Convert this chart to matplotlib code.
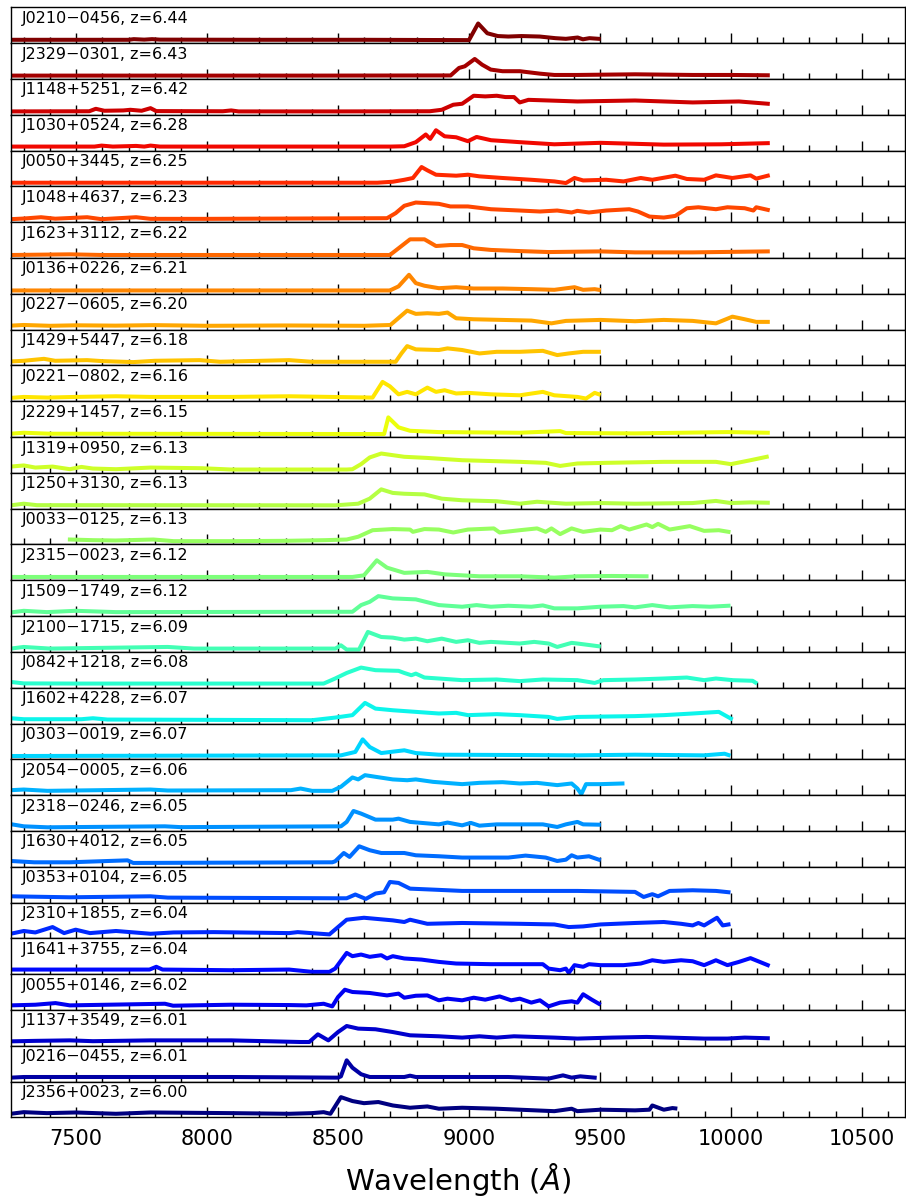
import numpy as np
import matplotlib
matplotlib.use("Agg")
import matplotlib.pyplot as plt
from matplotlib.ticker import MultipleLocator

# Quasar names and redshifts, top panel to bottom panel
names = ["J0210−0456", "J2329−0301", "J1148+5251", "J1030+0524", "J0050+3445",
         "J1048+4637", "J1623+3112", "J0136+0226", "J0227−0605", "J1429+5447",
         "J0221−0802", "J2229+1457", "J1319+0950", "J1250+3130", "J0033−0125",
         "J2315−0023", "J1509−1749", "J2100−1715", "J0842+1218", "J1602+4228",
         "J0303−0019", "J2054−0005", "J2318−0246", "J1630+4012", "J0353+0104",
         "J2310+1855", "J1641+3755", "J0055+0146", "J1137+3549", "J0216−0455",
         "J2356+0023"]
redshifts = [6.44, 6.43, 6.42, 6.28, 6.25, 6.23, 6.22, 6.21, 6.20, 6.18, 6.16,
             6.15, 6.13, 6.13, 6.13, 6.12, 6.12, 6.09, 6.08, 6.07, 6.07, 6.06,
             6.05, 6.05, 6.05, 6.04, 6.04, 6.02, 6.01, 6.01, 6.00]

# Normalised spectra (wavelength in Angstrom, relative flux)
j0210_wave = [7250, 7500, 7700, 7720, 7760, 7790, 7820, 8200, 8600, 9000, 9035, 9070, 9110,
              9150, 9200, 9270, 9330, 9370, 9415, 9435, 9460, 9495]
j0210_flux = [0.02, 0.02, 0.02, 0.06, 0.03, 0.06, 0.03, 0.02, 0.02, 0.0, 1.02, 0.42, 0.25,
              0.22, 0.25, 0.22, 0.12, 0.08, 0.16, 0.05, 0.12, 0.08]

j2329_wave = [7250, 7600, 8000, 8400, 8930, 8962, 8984, 9022, 9050, 9083, 9128, 9194, 9271,
              9326, 9414, 9634, 9854, 10000, 10141]
j2329_flux = [0.02, 0.02, 0.02, 0.02, 0.03, 0.49, 0.59, 1.04, 0.69, 0.39, 0.29, 0.29, 0.14,
              0.06, 0.06, 0.1, 0.06, 0.06, 0.04]

j1148_wave = [7250, 7550, 7575, 7608, 7680, 7707, 7750, 7784, 7806, 8060, 8092, 8120, 8500,
              8850, 8896, 8940, 8974, 9018, 9062, 9106, 9139, 9172, 9194, 9227, 9304, 9414,
              9634, 9854, 10031, 10141]
j1148_flux = [0.02, 0.03, 0.18, 0.06, 0.08, 0.12, 0.06, 0.22, 0.04, 0.03, 0.08, 0.02, 0.02,
              0.03, 0.12, 0.43, 0.49, 0.98, 0.94, 0.98, 0.9, 0.9, 0.57, 0.73, 0.69, 0.63,
              0.69, 0.57, 0.63, 0.49]

j1030_wave = [7250, 7570, 7597, 7640, 7729, 7760, 7784, 7820, 8700, 8753, 8797, 8835, 8852,
              8874, 8907, 8951, 8996, 9029, 9084, 9194, 9326, 9502, 9744, 9964, 10141]
j1030_flux = [0.06, 0.06, 0.12, 0.06, 0.1, 0.06, 0.12, 0.06, 0.06, 0.08, 0.33, 0.8, 0.53,
              1.06, 0.69, 0.63, 0.39, 0.65, 0.45, 0.33, 0.2, 0.29, 0.18, 0.2, 0.27]

j0050_wave = [7250, 8000, 8650, 8709, 8753, 8786, 8819, 8841, 8874, 8951, 8996, 9040, 9128,
              9238, 9326, 9370, 9403, 9436, 9524, 9590, 9656, 9700, 9788, 9832, 9898, 9943,
              10006, 10075, 10097, 10141]
j0050_flux = [0.04, 0.04, 0.04, 0.1, 0.22, 0.33, 1.0, 0.8, 0.53, 0.47, 0.53, 0.43, 0.33,
              0.22, 0.12, 0.02, 0.33, 0.18, 0.22, 0.12, 0.33, 0.22, 0.47, 0.27, 0.22, 0.49,
              0.33, 0.49, 0.29, 0.47]

j1048_wave = [7250, 7300, 7366, 7420, 7542, 7597, 7729, 7784, 8000, 8687, 8720, 8753, 8797,
              8885, 8929, 8996, 9084, 9194, 9271, 9337, 9392, 9414, 9458, 9524, 9612, 9645,
              9689, 9744, 9788, 9832, 9876, 9943, 9987, 10053, 10086, 10097, 10141]
j1048_flux = [0.0, 0.04, 0.12, 0.03, 0.12, 0.0, 0.12, 0.02, 0.02, 0.06, 0.37, 0.82, 1.02,
              0.94, 0.78, 0.78, 0.61, 0.53, 0.47, 0.53, 0.41, 0.51, 0.41, 0.53, 0.61, 0.47,
              0.16, 0.1, 0.2, 0.67, 0.73, 0.61, 0.73, 0.67, 0.53, 0.73, 0.57]

j1623_wave = [7250, 7476, 7600, 8698, 8731, 8775, 8830, 8874, 8929, 8974, 9018, 9084, 9194,
              9304, 9502, 9634, 9854, 10141]
j1623_flux = [0.0, 0.04, 0.0, 0.0, 0.41, 0.96, 0.96, 0.55, 0.61, 0.61, 0.41, 0.31, 0.24,
              0.18, 0.22, 0.16, 0.16, 0.22]

j0136_wave = [7250, 8698, 8731, 8771, 8797, 8830, 8885, 8951, 9018, 9128, 9238, 9326, 9403,
              9436, 9480, 9496]
j0136_flux = [0.02, 0.02, 0.27, 0.98, 0.47, 0.31, 0.16, 0.22, 0.14, 0.14, 0.1, 0.06, 0.22,
              0.06, 0.1, 0.06]

j0227_wave = [7250, 7300, 7400, 7500, 7650, 7800, 8000, 8300, 8600, 8700, 8764, 8797, 8841,
              8885, 8918, 8951, 9018, 9128, 9238, 9315, 9370, 9502, 9634, 9744, 9854, 9943,
              10006, 10053, 10097, 10141]
j0227_flux = [0.06, 0.1, 0.05, 0.08, 0.06, 0.09, 0.05, 0.07, 0.05, 0.1, 0.98, 0.78, 0.82,
              0.78, 0.86, 0.51, 0.45, 0.41, 0.37, 0.2, 0.35, 0.41, 0.33, 0.41, 0.35, 0.2,
              0.61, 0.45, 0.29, 0.29]

j1429_wave = [7250, 7300, 7377, 7420, 7542, 7600, 7718, 7800, 7971, 8050, 8313, 8400, 8533,
              8720, 8742, 8764, 8797, 8885, 8918, 8974, 9040, 9106, 9194, 9282, 9337, 9381,
              9436, 9496]
j1429_flux = [0.06, 0.1, 0.22, 0.1, 0.14, 0.08, 0.02, 0.1, 0.14, 0.04, 0.14, 0.04, 0.04,
              0.04, 0.55, 1.0, 0.8, 0.76, 0.86, 0.76, 0.55, 0.65, 0.65, 0.71, 0.45, 0.55,
              0.65, 0.65]

j0221_wave = [7250, 7300, 7390, 7498, 7652, 7784, 8092, 8313, 8632, 8670, 8698, 8731, 8764,
              8797, 8841, 8874, 8907, 8951, 8996, 9084, 9194, 9282, 9326, 9414, 9447, 9480,
              9496]
j0221_flux = [0.02, 0.08, 0.04, 0.08, 0.12, 0.08, 0.08, 0.12, 0.04, 1.0, 0.73, 0.24, 0.39,
              0.24, 0.65, 0.39, 0.49, 0.29, 0.33, 0.24, 0.18, 0.39, 0.18, 0.08, -0.02, 0.33,
              0.24]

j2229_wave = [7250, 7300, 7400, 8676, 8692, 8731, 8775, 8885, 9194, 9348, 9370, 9634, 9987,
              10141]
j2229_flux = [0.02, 0.08, 0.02, 0.0, 1.02, 0.41, 0.2, 0.12, 0.08, 0.18, 0.06, 0.04, 0.12,
              0.08]

j1319_wave = [7250, 7300, 7344, 7410, 7476, 7520, 7564, 7652, 7784, 7980, 8092, 8533, 8555,
              8588, 8621, 8665, 8709, 8753, 8841, 8974, 9194, 9293, 9348, 9414, 9524, 9744,
              9943, 10000, 10075, 10137]
j1319_flux = [0.2, 0.27, 0.14, 0.2, 0.04, 0.18, 0.08, 0.04, 0.14, 0.1, 0.02, 0.02, 0.04,
              0.35, 0.76, 1.0, 0.9, 0.8, 0.73, 0.59, 0.49, 0.43, 0.24, 0.39, 0.43, 0.49,
              0.49, 0.35, 0.59, 0.8]

j1250_wave = [7250, 7300, 7350, 8489, 8577, 8621, 8665, 8709, 8753, 8830, 8896, 8974, 9106,
              9194, 9260, 9370, 9502, 9634, 9854, 9943, 10000, 10075, 10141]
j1250_flux = [0.02, 0.12, 0.03, 0.02, 0.12, 0.43, 1.0, 0.78, 0.73, 0.69, 0.43, 0.33, 0.27,
              0.12, 0.24, 0.12, 0.16, 0.12, 0.16, 0.29, 0.16, 0.2, 0.18]

j0033_wave = [7476, 7564, 7650, 7795, 7872, 8100, 8300, 8450, 8533, 8577, 8632, 8709, 8775,
              8786, 8830, 8885, 8940, 8996, 9095, 9117, 9194, 9260, 9293, 9315, 9348, 9392,
              9436, 9502, 9546, 9579, 9612, 9678, 9700, 9722, 9766, 9843, 9898, 9954, 9991]
j0033_flux = [0.12, 0.08, 0.06, 0.12, 0.02, 0.02, 0.04, 0.08, 0.12, 0.29, 0.69, 0.76, 0.73,
              0.59, 0.76, 0.73, 0.55, 0.73, 0.8, 0.55, 0.69, 0.8, 0.59, 0.8, 0.45, 0.8,
              0.59, 0.73, 0.69, 0.94, 0.73, 1.04, 0.88, 1.08, 0.73, 0.94, 0.65, 0.69, 0.59]

j2315_wave = [7250, 8555, 8599, 8648, 8687, 8753, 8841, 8907, 9040, 9194, 9326, 9414, 9546,
              9678]
j2315_flux = [0.02, 0.02, 0.12, 1.04, 0.59, 0.27, 0.33, 0.18, 0.06, 0.06, -0.02, 0.06, 0.08,
              0.06]

j1509_wave = [7250, 7300, 7388, 7498, 7652, 8555, 8588, 8621, 8654, 8709, 8797, 8885, 8974,
              9029, 9084, 9150, 9238, 9282, 9326, 9414, 9502, 9590, 9634, 9700, 9766, 9854,
              9920, 9991]
j1509_flux = [0.04, 0.14, 0.06, 0.14, 0.06, 0.08, 0.49, 0.69, 1.04, 0.9, 0.84, 0.49, 0.39,
              0.49, 0.39, 0.45, 0.39, 0.47, 0.29, 0.29, 0.39, 0.43, 0.35, 0.49, 0.35, 0.43,
              0.39, 0.45]

j2100_wave = [7250, 7300, 7400, 7850, 7950, 8490, 8511, 8533, 8580, 8614, 8665, 8709, 8753,
              8797, 8841, 8896, 8951, 8996, 9040, 9084, 9194, 9249, 9304, 9337, 9392, 9414,
              9496]
j2100_flux = [0.02, 0.12, 0.02, 0.12, 0.02, 0.02, 0.22, -0.04, -0.04, 1.04, 0.73, 0.69, 0.57,
              0.63, 0.47, 0.63, 0.43, 0.53, 0.37, 0.43, 0.33, 0.43, 0.33, 0.12, 0.37, 0.33,
              0.16]

j0842_wave = [7250, 7300, 7500, 8445, 8489, 8533, 8588, 8643, 8731, 8753, 8780, 8797, 8830,
              8885, 8974, 9106, 9194, 9282, 9414, 9480, 9513, 9634, 9744, 9832, 9898, 9943,
              10006, 10083, 10094]
j0842_flux = [0.17, 0.08, 0.07, 0.07, 0.38, 0.72, 1.05, 0.89, 0.85, 0.72, 0.58, 0.68, 0.44,
              0.38, 0.28, 0.32, 0.22, 0.32, 0.28, 0.11, 0.28, 0.32, 0.38, 0.44, 0.28, 0.38,
              0.28, 0.24, 0.13]

j1602_wave = [7250, 7300, 7520, 7564, 7620, 8401, 8489, 8555, 8603, 8643, 8709, 8797, 8885,
              8951, 8996, 9106, 9194, 9304, 9337, 9414, 9634, 9744, 9854, 9954, 10000]
j1602_flux = [0.14, 0.08, 0.08, 0.14, 0.06, 0.02, 0.18, 0.33, 1.08, 0.73, 0.63, 0.53, 0.43,
              0.47, 0.33, 0.39, 0.33, 0.22, 0.1, 0.22, 0.27, 0.33, 0.43, 0.53, 0.12]

j0303_wave = [7250, 8511, 8566, 8594, 8621, 8665, 8753, 8797, 8885, 9194, 9414, 9634, 9898,
              9976, 9991]
j0303_flux = [0.02, 0.06, 0.27, 1.04, 0.57, 0.2, 0.37, 0.2, 0.1, 0.08, 0.06, 0.1, 0.06,
              0.16, 0.08]

j2054_wave = [7250, 7300, 7390, 7784, 7850, 8320, 8357, 8401, 8478, 8511, 8555, 8577, 8603,
              8643, 8709, 8764, 8797, 8863, 8974, 9040, 9128, 9194, 9260, 9337, 9392, 9414,
              9429, 9447, 9502, 9586]
j2054_flux = [0.12, 0.16, 0.08, 0.16, 0.1, 0.12, 0.22, 0.08, 0.08, 0.33, 0.9, 0.78, 1.04,
              0.94, 0.78, 0.73, 0.78, 0.63, 0.49, 0.57, 0.61, 0.53, 0.57, 0.43, 0.53, 0.22,
              -0.12, 0.49, 0.49, 0.53]

j2318_wave = [7250, 7255, 7300, 7390, 7839, 7900, 8511, 8533, 8559, 8588, 8643, 8709, 8731,
              8775, 8819, 8885, 8918, 8974, 9007, 9040, 9106, 9194, 9282, 9337, 9370, 9414,
              9436, 9496]
j2318_flux = [0.22, 0.22, 0.1, 0.04, 0.1, 0.05, 0.1, 0.37, 1.04, 0.88, 0.51, 0.51, 0.57,
              0.37, 0.31, 0.22, 0.33, 0.16, 0.31, 0.14, 0.22, 0.22, 0.22, 0.06, 0.22, 0.37,
              0.22, 0.2]

j1630_wave = [7250, 7340, 7476, 7696, 7718, 8478, 8489, 8522, 8544, 8581, 8621, 8665, 8753,
              8797, 8885, 8974, 9150, 9216, 9293, 9337, 9370, 9392, 9414, 9458, 9496]
j1630_flux = [0.17, 0.09, 0.09, 0.21, 0.05, 0.09, 0.15, 0.66, 0.42, 1.07, 0.83, 0.66, 0.66,
              0.52, 0.46, 0.38, 0.38, 0.5, 0.38, 0.17, 0.25, 0.52, 0.38, 0.46, 0.25]

j0353_wave = [7250, 7476, 7784, 7850, 8489, 8533, 8566, 8606, 8643, 8676, 8698, 8731, 8775,
              8863, 8974, 9194, 9414, 9634, 9667, 9700, 9722, 9766, 9854, 9943, 9991]
j0353_flux = [0.2, 0.14, 0.2, 0.12, 0.08, 0.08, 0.31, 0.04, 0.37, 0.45, 1.08, 1.02, 0.67,
              0.61, 0.53, 0.53, 0.53, 0.47, 0.16, 0.33, 0.2, 0.53, 0.57, 0.53, 0.45]

j2310_wave = [7250, 7300, 7344, 7410, 7454, 7498, 7553, 7652, 7784, 7872, 8026, 8313, 8346,
              8467, 8500, 8533, 8599, 8709, 8753, 8775, 8841, 8974, 9194, 9326, 9381, 9436,
              9502, 9634, 9744, 9810, 9854, 9876, 9898, 9947, 9969, 9991]
j2310_flux = [0.1, 0.27, 0.18, 0.51, 0.14, 0.35, 0.14, 0.27, 0.1, 0.18, 0.2, 0.14, 0.2,
              0.06, 0.51, 0.96, 1.08, 0.92, 0.82, 0.96, 0.71, 0.76, 0.71, 0.67, 0.51, 0.55,
              0.67, 0.76, 0.82, 0.71, 0.61, 0.76, 0.61, 1.08, 0.61, 0.67]

j1641_wave = [7250, 7780, 7806, 7830, 8092, 8313, 8401, 8467, 8489, 8533, 8555, 8588, 8621,
              8665, 8687, 8709, 8753, 8819, 8885, 8951, 9084, 9282, 9304, 9348, 9370, 9381,
              9403, 9436, 9458, 9502, 9590, 9656, 9700, 9744, 9810, 9854, 9898, 9943, 9987,
              10031, 10075, 10141]
j1641_flux = [0.1, 0.1, 0.27, 0.1, 0.06, 0.1, -0.04, -0.04, 0.16, 1.12, 0.92, 1.02, 0.88,
              0.98, 0.78, 0.92, 0.78, 0.71, 0.57, 0.47, 0.43, 0.43, 0.16, 0.06, 0.16, -0.1,
              0.37, 0.27, 0.43, 0.37, 0.37, 0.47, 0.67, 0.57, 0.67, 0.61, 0.37, 0.67, 0.37,
              0.57, 0.8, 0.37]

j0055_wave = [7250, 7344, 7421, 7476, 7839, 7870, 8092, 8313, 8379, 8445, 8478, 8500, 8526,
              8555, 8621, 8687, 8731, 8753, 8797, 8841, 8885, 8918, 8974, 9018, 9062, 9117,
              9161, 9194, 9238, 9271, 9304, 9348, 9392, 9414, 9436, 9469, 9496]
j0055_flux = [0.1, 0.14, 0.24, 0.1, 0.2, 0.08, 0.14, 0.12, 0.1, 0.2, 0.04, 0.61, 1.06,
              0.92, 0.86, 0.71, 0.82, 0.57, 0.69, 0.71, 0.41, 0.51, 0.41, 0.57, 0.45, 0.65,
              0.41, 0.51, 0.27, 0.41, 0.04, 0.27, 0.35, 0.27, 0.78, 0.45, 0.2]

j1137_wave = [7250, 7344, 7476, 7564, 7784, 8092, 8357, 8390, 8423, 8463, 8500, 8533, 8577,
              8643, 8709, 8775, 8885, 8974, 9040, 9106, 9172, 9326, 9414, 9546, 9678, 9766,
              9898, 9987, 10053, 10141]
j1137_flux = [0.09, 0.12, 0.15, 0.1, 0.15, 0.15, 0.05, 0.05, 0.52, 0.15, 0.66, 1.03, 0.87,
              0.83, 0.66, 0.46, 0.4, 0.32, 0.4, 0.32, 0.4, 0.32, 0.26, 0.32, 0.36, 0.32,
              0.26, 0.26, 0.32, 0.28]

j0216_wave = [7250, 7300, 7784, 8092, 8313, 8500, 8511, 8533, 8555, 8588, 8621, 8753, 8775,
              8797, 9150, 9304, 9359, 9392, 9425, 9480]
j0216_flux = [0.06, 0.1, 0.1, 0.1, 0.08, 0.06, 0.14, 1.12, 0.67, 0.27, 0.1, 0.1, 0.18,
              0.1, 0.1, 0.0, 0.2, 0.06, 0.14, 0.06]

j2356_wave = [7250, 7300, 7388, 7498, 7652, 7784, 8092, 8313, 8401, 8445, 8471, 8511, 8555,
              8599, 8654, 8709, 8775, 8841, 8885, 8974, 9106, 9194, 9326, 9392, 9414, 9502,
              9634, 9689, 9700, 9744, 9777, 9788]
j2356_flux = [0.04, 0.14, 0.08, 0.12, 0.04, 0.12, 0.08, 0.04, 0.08, 0.14, 0.04, 1.06, 0.82,
              0.69, 0.76, 0.55, 0.41, 0.49, 0.35, 0.41, 0.35, 0.29, 0.2, 0.35, 0.2, 0.29,
              0.25, 0.29, 0.55, 0.29, 0.39, 0.37]

spectra = [
    (j0210_wave, j0210_flux), (j2329_wave, j2329_flux), (j1148_wave, j1148_flux),
    (j1030_wave, j1030_flux), (j0050_wave, j0050_flux), (j1048_wave, j1048_flux),
    (j1623_wave, j1623_flux), (j0136_wave, j0136_flux), (j0227_wave, j0227_flux),
    (j1429_wave, j1429_flux), (j0221_wave, j0221_flux), (j2229_wave, j2229_flux),
    (j1319_wave, j1319_flux), (j1250_wave, j1250_flux), (j0033_wave, j0033_flux),
    (j2315_wave, j2315_flux), (j1509_wave, j1509_flux), (j2100_wave, j2100_flux),
    (j0842_wave, j0842_flux), (j1602_wave, j1602_flux), (j0303_wave, j0303_flux),
    (j2054_wave, j2054_flux), (j2318_wave, j2318_flux), (j1630_wave, j1630_flux),
    (j0353_wave, j0353_flux), (j2310_wave, j2310_flux), (j1641_wave, j1641_flux),
    (j0055_wave, j0055_flux), (j1137_wave, j1137_flux), (j0216_wave, j0216_flux),
    (j2356_wave, j2356_flux),
]

n = len(names)
colors = plt.cm.jet(np.linspace(1, 0, n))

fig = plt.figure(figsize=(9.06, 12), dpi=100)
axes = fig.subplots(n, 1, sharex=True, gridspec_kw=dict(hspace=0))
fig.subplots_adjust(left=0.0118, right=0.9989, top=0.9939, bottom=0.0688)

for ax, name, z, (wave, flux), c in zip(axes, names, redshifts, spectra, colors):
    ax.plot(wave, flux, color=c, lw=2.9, solid_joinstyle='round')
    ax.set_ylim(-0.184, 2.01)
    ax.set_yticks([])
    ax.annotate(f"{name}, z={z:.2f}", xy=(0.013, 1.0), xycoords='axes fraction',
                xytext=(0, -2.5), textcoords='offset points', va='top', ha='left',
                fontsize=11.5)
    ax.tick_params(axis='x', which='both', direction='in', top=False, bottom=True,
                   labelbottom=False)
    ax.tick_params(axis='x', which='major', length=7, width=1.0)
    ax.tick_params(axis='x', which='minor', length=4, width=1.0)
    for sp in ax.spines.values():
        sp.set_linewidth(1.0)

ax = axes[-1]
ax.set_xlim(7250, 10665)
ax.xaxis.set_major_locator(MultipleLocator(500))
ax.xaxis.set_minor_locator(MultipleLocator(100))
ax.tick_params(axis='x', labelbottom=True, labelsize=15, pad=8)
ax.set_xlabel(r'Wavelength ($\AA$)', fontsize=21, labelpad=9)

fig.savefig("out.png", dpi=100)
